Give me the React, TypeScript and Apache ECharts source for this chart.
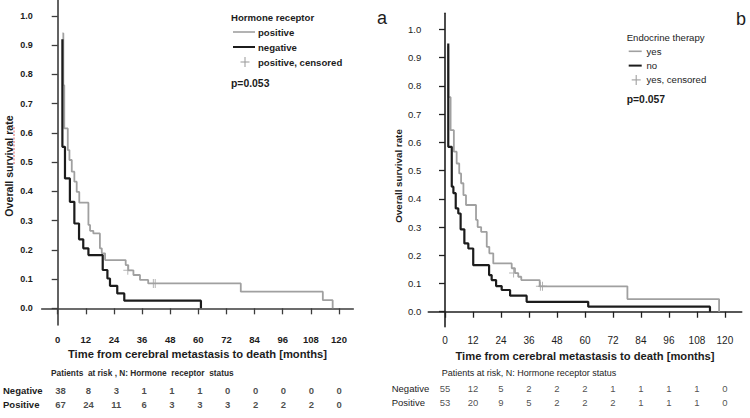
import React, { useEffect, useRef } from "react";
import * as echarts from "echarts";

// Shared axis ticks
const monthTicks = [0, 12, 24, 36, 48, 60, 72, 84, 96, 108, 120];
const survivalTicks = [0, 0.1, 0.2, 0.3, 0.4, 0.5, 0.6, 0.7, 0.8, 0.9, 1.0];
const riskRows = ["Positive", "Negative"];

// Panel a: hormone receptor status (Kaplan-Meier steps: time in months, survival after the event)
const hrPositiveTime = [2.0, 2.4, 2.8, 4.3, 5.0, 6.0, 7.1, 8.1, 9.2, 13.1, 13.8, 15.2, 18.0, 18.8, 20.2, 29.0, 30.1, 32.3, 35.1, 38.6, 78.1, 113.1, 117.3];
const hrPositiveSurv = [0.94, 0.763, 0.615, 0.541, 0.507, 0.467, 0.433, 0.398, 0.361, 0.285, 0.265, 0.256, 0.205, 0.188, 0.165, 0.148, 0.13, 0.114, 0.097, 0.085, 0.057, 0.028, 0.0];
const hrNegativeTime = [2.0, 2.0, 3.1, 5.2, 7.1, 9.1, 10.9, 13.1, 19.2, 21.2, 22.3, 25.4, 28.4, 61.1];
const hrNegativeSurv = [0.92, 0.552, 0.444, 0.364, 0.29, 0.236, 0.205, 0.182, 0.131, 0.102, 0.077, 0.051, 0.026, 0.0];
const hrCensoredTime = [29.9, 40.8, 41.6];
const hrCensoredSurv = [0.13, 0.085, 0.085];
const hrRiskNegative = [38, 8, 3, 1, 1, 1, 0, 0, 0, 0, 0];
const hrRiskPositive = [67, 24, 11, 6, 3, 3, 3, 2, 2, 2, 0];

// Panel b: endocrine therapy
const etYesTime = [1.4, 1.5, 2.4, 3.8, 5.0, 6.1, 6.9, 7.9, 9.0, 13.3, 14.0, 15.5, 17.9, 19.0, 20.7, 28.6, 30.0, 31.4, 32.7, 40.6, 78.2, 117.5];
const etYesSurv = [0.94, 0.76, 0.643, 0.567, 0.525, 0.49, 0.455, 0.413, 0.378, 0.325, 0.3, 0.283, 0.23, 0.207, 0.171, 0.154, 0.137, 0.124, 0.112, 0.09, 0.045, 0.0];
const etNoTime = [1.4, 1.4, 2.9, 3.6, 4.6, 5.7, 6.7, 8.3, 10.0, 12.1, 18.9, 20.0, 21.9, 24.3, 27.9, 35.0, 61.4, 113.6];
const etNoSurv = [0.95, 0.584, 0.443, 0.42, 0.366, 0.348, 0.292, 0.242, 0.224, 0.165, 0.13, 0.112, 0.091, 0.077, 0.057, 0.035, 0.018, 0.0];
const etCensoredTime = [29.4, 40.9, 41.8];
const etCensoredSurv = [0.137, 0.09, 0.09];
const etRiskNegative = [55, 12, 5, 2, 2, 2, 1, 1, 1, 1, 0];
const etRiskPositive = [53, 20, 9, 5, 2, 2, 2, 1, 1, 1, 0];

const FONT = "'Liberation Sans', Arial, sans-serif";
const INK = "#1c1c1c";
const GRAY = "#a0a0a0";
const CROSS = "path://M4.45,0H5.55V4.45H10V5.55H5.55V10H4.45V5.55H0V4.45H4.45Z";

const pairs = (t: number[], s: number[]) => t.map((x, i) => [x, s[i]]);
const riskData = (neg: number[], pos: number[]) => [
  ...monthTicks.map((m, i) => [m, "Negative", neg[i]]),
  ...monthTicks.map((m, i) => [m, "Positive", pos[i]]),
];

function mainAxes(
  grid: number,
  xmin: number,
  xmax: number,
  ymin: number,
  ymax: number,
  bold: boolean,
  axisColor: string
) {
  const weight = bold ? "bold" : "normal";
  const x = {
    type: "value",
    gridIndex: grid,
    min: xmin,
    max: xmax,
    splitLine: { show: false },
    axisLine: { show: true, lineStyle: { color: axisColor, width: 1.6 } },
    axisTick: { show: true, customValues: monthTicks, length: 6, lineStyle: { color: axisColor, width: 1.3 } },
    axisLabel: {
      customValues: monthTicks,
      margin: 9,
      fontFamily: FONT,
      fontSize: bold ? 9.5 : 10,
      fontWeight: weight,
      color: INK,
    },
    name: "Time from cerebral metastasis to death [months]",
    nameLocation: "middle",
    nameGap: 22,
    nameTextStyle: { fontFamily: FONT, fontSize: 11.2, fontWeight: "bold", color: INK },
  };
  const y = {
    type: "value",
    gridIndex: grid,
    min: ymin,
    max: ymax,
    splitLine: { show: false },
    axisLine: { show: true, lineStyle: { color: axisColor, width: 1.6 } },
    axisTick: { show: true, customValues: survivalTicks, length: 6, lineStyle: { color: axisColor, width: 1.3 } },
    axisLabel: {
      customValues: survivalTicks,
      margin: bold ? 9 : 7,
      fontFamily: FONT,
      fontSize: bold ? 9 : 9.5,
      fontWeight: weight,
      color: INK,
      formatter: (v: number) => v.toFixed(1),
    },
  };
  return { x, y };
}

function riskAxes(grid: number, xmin: number, xmax: number, margin: number, bold: boolean) {
  return {
    x: { type: "value", gridIndex: grid, min: xmin, max: xmax, show: false },
    y: {
      type: "category",
      gridIndex: grid,
      data: riskRows,
      axisLine: { show: false },
      axisTick: { show: false },
      splitLine: { show: false },
      axisLabel: {
        align: "left",
        margin,
        fontFamily: FONT,
        fontSize: 9.5,
        fontWeight: bold ? "bold" : "normal",
        color: INK,
      },
    },
  };
}

function legendBlock(
  x: number,
  y: number,
  title: string,
  items: string[],
  pText: string,
  bold: boolean,
  gap: number,
  lineLen: number,
  textX: number
) {
  const weight = bold ? "bold" : "normal";
  const txt = (tx: number, ty: number, text: string, w = weight, size = 9.6) => ({
    type: "text",
    x: tx,
    y: ty,
    style: { text, fill: INK, font: `${w} ${size}px ${FONT}`, verticalAlign: "middle", align: "left" },
  });
  const cx = x + 2 + lineLen / 2 + 1;
  const c = y + 3 * gap;
  return [
    txt(x, y, title),
    { type: "line", shape: { x1: x + 2, y1: y + gap, x2: x + 2 + lineLen, y2: y + gap }, style: { stroke: GRAY, lineWidth: 1.6 } },
    txt(textX, y + gap, items[0]),
    { type: "line", shape: { x1: x + 2, y1: y + 2 * gap, x2: x + 2 + lineLen, y2: y + 2 * gap }, style: { stroke: INK, lineWidth: 2 } },
    txt(textX, y + 2 * gap, items[1]),
    { type: "line", shape: { x1: cx - 4.5, y1: c, x2: cx + 4.5, y2: c }, style: { stroke: GRAY, lineWidth: 1.1 } },
    { type: "line", shape: { x1: cx, y1: c - 5, x2: cx, y2: c + 5 }, style: { stroke: GRAY, lineWidth: 1.1 } },
    txt(textX, c, items[2]),
    txt(x, y + 3 * gap + (bold ? 21 : 20), pText, "bold", 10.4),
  ];
}

export default function App() {
  const ref = useRef<HTMLDivElement>(null);

  useEffect(() => {
    document.body.style.margin = "0";
    if (!ref.current) return;
    const chart = echarts.init(ref.current, undefined, { renderer: "svg" });

    const a = mainAxes(0, -6.83, 126.1, -0.057, 1.054, true, "#3c3c3c");
    const ar = riskAxes(1, -6.83, 126.1, 41.7, true);
    const b = mainAxes(2, -7.16, 127.2, -0.053, 1.057, false, "#202020");
    const br = riskAxes(3, -7.16, 127.2, 36.6, false);

    const riskLabel = (bold: boolean) => ({
      show: true,
      position: "inside",
      fontFamily: FONT,
      fontSize: 9.5,
      fontWeight: bold ? "bold" : "normal",
      color: INK,
      formatter: (p: any) => String(p.value[2]),
    });

    const option: any = {
      animation: false,
      backgroundColor: "#ffffff",
      grid: [
        { left: 41.7, top: 0, width: 311.6, height: 325 },
        { left: 41.7, top: 383, width: 311.6, height: 28 },
        { left: 428.3, top: 13.3, width: 313.4, height: 313.4 },
        { left: 428.3, top: 381.3, width: 313.4, height: 28 },
      ],
      xAxis: [a.x, ar.x, b.x, br.x],
      yAxis: [a.y, ar.y, b.y, br.y],
      series: [
        {
          name: "positive",
          type: "line",
          xAxisIndex: 0,
          yAxisIndex: 0,
          step: "end",
          symbol: "none",
          data: pairs(hrPositiveTime, hrPositiveSurv),
          lineStyle: { color: GRAY, width: 1.8 },
        },
        {
          name: "negative",
          type: "line",
          xAxisIndex: 0,
          yAxisIndex: 0,
          step: "end",
          symbol: "none",
          data: pairs(hrNegativeTime, hrNegativeSurv),
          lineStyle: { color: INK, width: 2.2 },
        },
        {
          name: "positive, censored",
          type: "scatter",
          xAxisIndex: 0,
          yAxisIndex: 0,
          symbol: CROSS,
          symbolSize: 9,
          itemStyle: { color: GRAY },
          data: pairs(hrCensoredTime, hrCensoredSurv),
        },
        {
          name: "hr at risk",
          type: "scatter",
          xAxisIndex: 1,
          yAxisIndex: 1,
          symbolSize: 1,
          itemStyle: { color: "rgba(0,0,0,0)" },
          label: riskLabel(true),
          data: riskData(hrRiskNegative, hrRiskPositive),
        },
        {
          name: "yes",
          type: "line",
          xAxisIndex: 2,
          yAxisIndex: 2,
          step: "end",
          symbol: "none",
          data: pairs(etYesTime, etYesSurv),
          lineStyle: { color: GRAY, width: 1.8 },
        },
        {
          name: "no",
          type: "line",
          xAxisIndex: 2,
          yAxisIndex: 2,
          step: "end",
          symbol: "none",
          data: pairs(etNoTime, etNoSurv),
          lineStyle: { color: INK, width: 2.2 },
        },
        {
          name: "yes, censored",
          type: "scatter",
          xAxisIndex: 2,
          yAxisIndex: 2,
          symbol: CROSS,
          symbolSize: 9,
          itemStyle: { color: GRAY },
          data: pairs(etCensoredTime, etCensoredSurv),
        },
        {
          name: "et at risk",
          type: "scatter",
          xAxisIndex: 3,
          yAxisIndex: 3,
          symbolSize: 1,
          itemStyle: { color: "rgba(0,0,0,0)" },
          label: riskLabel(false),
          data: riskData(etRiskNegative, etRiskPositive),
        },
      ],
      graphic: [
        // axis titles
        {
          type: "text",
          x: 8.5,
          y: 166,
          rotation: Math.PI / 2,
          style: { text: "Overall survival rate", fill: INK, font: `bold 10.6px ${FONT}`, align: "center", verticalAlign: "middle" },
        },
        {
          type: "line",
          shape: { x1: 14, y1: 127, x2: 14, y2: 164 },
          style: { stroke: "#e06060", lineWidth: 1, lineDash: [2, 1.5] },
        },
        {
          type: "text",
          x: 398.5,
          y: 176,
          rotation: Math.PI / 2,
          style: { text: "Overall survival rate", fill: INK, font: `bold 9.8px ${FONT}`, align: "center", verticalAlign: "middle" },
        },
        // panel letters
        { type: "text", x: 377, y: 18, style: { text: "a", fill: INK, font: `18px ${FONT}`, verticalAlign: "middle" } },
        { type: "text", x: 736, y: 19, style: { text: "b", fill: INK, font: `18px ${FONT}`, verticalAlign: "middle" } },
        // risk table headers
        {
          type: "text",
          x: 51,
          y: 373,
          style: { text: "Patients  at risk , N: Hormone  receptor  status", fill: "#2a2a2a", font: `bold 8.3px ${FONT}`, verticalAlign: "middle", whiteSpace: "pre" },
        },
        {
          type: "text",
          x: 441.7,
          y: 372.7,
          style: { text: "Patients at risk, N: Hormone receptor status", fill: INK, font: `9px ${FONT}`, verticalAlign: "middle" },
        },
        // legends
        ...legendBlock(231, 17, "Hormone receptor", ["positive", "negative", "positive, censored"], "p=0.053", true, 15, 22, 258),
        ...legendBlock(626.7, 37, "Endocrine therapy", ["yes", "no", "yes, censored"], "p=0.057", false, 14.3, 13, 646.5),
      ],
    };

    chart.setOption(option);
    return () => chart.dispose();
  }, []);

  return <div ref={ref} style={{ width: 750, height: 418 }} />;
}
